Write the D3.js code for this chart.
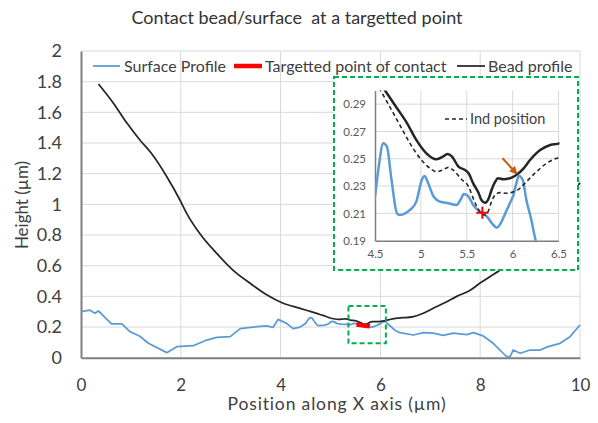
<!DOCTYPE html>
<html><head><meta charset="utf-8">
<script src="https://cdn.jsdelivr.net/npm/d3@7"></script>
<style>
html,body{margin:0;padding:0;background:#fff;}
svg{display:block;font-family:Lato,"Open Sans",sans-serif;}
</style></head>
<body>
<svg id="chart" width="598" height="423"></svg>
<script>
// ---------------- data ----------------
const surfaceX = [0,0.18,0.28,0.35,0.61,0.82,0.98,1.18,1.35,1.72,1.92,2.25,2.52,2.72,2.99,3.19,3.45,3.72,3.85,3.95,4.12,4.25,4.39,
  4.5,4.536,4.59,4.63,4.68,4.74,4.77,4.88,4.95,5.01,5.04,5.08,5.14,5.21,5.30,5.39,5.43,5.47,5.52,5.57,5.64,5.72,5.79,5.83,5.87,5.92,5.97,6.01,6.04,6.07,6.11,6.15,6.2,6.25,6.3,
  6.39,6.66,6.86,7.06,7.26,7.46,7.73,7.86,8.06,8.26,8.46,8.53,8.6,8.66,8.8,9.0,9.2,9.36,9.6,9.8,10];
const surfaceY = [0.30,0.31,0.29,0.305,0.22,0.22,0.17,0.14,0.094,0.033,0.072,0.078,0.115,0.133,0.137,0.19,0.20,0.207,0.198,0.25,0.224,0.19,0.20,
  0.2227,0.2418,0.2613,0.2589,0.2345,0.21,0.2088,0.2125,0.2186,0.2345,0.2374,0.232,0.2222,0.2186,0.2174,0.2162,0.2198,0.2242,0.2222,0.2162,0.2113,0.2076,0.2015,0.1995,0.2027,0.21,0.2174,0.2235,0.232,0.2374,0.2345,0.2198,0.2064,0.1905,0.178,
  0.163,0.148,0.163,0.16,0.145,0.16,0.15,0.163,0.142,0.094,0.029,0.007,0.007,0.05,0.029,0.05,0.05,0.072,0.094,0.137,0.213];

const beadX = [0.35,0.65,0.92,1.18,1.41,1.72,1.98,2.12,2.38,2.72,3.05,3.39,3.72,4.05,4.39,
  4.61,4.74,4.85,4.95,5.06,5.17,5.24,5.29,5.34,5.41,5.48,5.52,5.57,5.63,5.66,5.70,5.74,5.77,5.81,5.84,5.90,5.97,6.04,6.12,6.19,6.30,6.41,6.51,
  6.66,6.86,7.06,7.33,7.53,7.80,7.99,8.2,8.4,8.8,9.2,9.6,10];
const beadY = [1.785,1.66,1.53,1.42,1.333,1.18,1.03,0.94,0.81,0.68,0.57,0.485,0.41,0.355,0.322,
  0.300,0.287,0.276,0.2638,0.254,0.2496,0.2515,0.2535,0.2515,0.2442,0.2418,0.2394,0.232,0.2247,0.2198,0.2178,0.2211,0.2271,0.2332,0.2357,0.235,0.2357,0.2381,0.243,0.2491,0.2564,0.2601,0.2613,
  0.268,0.29,0.322,0.365,0.40,0.44,0.485,0.53,0.572,0.70,0.84,0.99,1.14];

const indX = [4.45,4.56,4.66,4.77,4.88,4.99,5.10,5.17,5.24,5.30,5.35,5.45,5.52,5.57,5.61,5.66,5.70,5.74,5.77,5.81,5.86,5.94,6.01,6.08,6.15,6.26,6.37,6.51];
const indY = [0.31,0.30,0.2882,0.2748,0.2614,0.2504,0.2430,0.2405,0.2418,0.2437,0.2418,0.2345,0.2296,0.2211,0.2149,0.21,0.2088,0.2125,0.2186,0.2235,0.2252,0.2247,0.2259,0.2284,0.2332,0.2405,0.2467,0.2511];

const targetX = [5.52,5.6,5.7,5.79];
const targetY = [0.216,0.213,0.209,0.205];

const contactPoint = [5.67, 0.2105];
const arrowFrom = [5.89, 0.2504];
const arrowTo = [6.04, 0.2394];

const zoomBoxX = [5.36, 6.11];
const zoomBoxY = [0.094, 0.337];

const xTicks = [0,2,4,6,8,10];
const yTicks = [0,0.2,0.4,0.6,0.8,1,1.2,1.4,1.6,1.8,2];
const insetXTicks = [4.5,5,5.5,6,6.5];
const insetYTicks = [0.19,0.21,0.23,0.25,0.27,0.29];

const titleText = "Contact bead/surface\u00a0 at a targetted point";
const xTitle = "Position along X axis (\u00b5m)";
const yTitle = "Height (\u00b5m)";
const legendLabels = ["Surface Profile","Targetted point of contact","Bead profile"];
const insetLegend = "Ind position";

// ---------------- drawing ----------------
const svg = d3.select("#chart");
const BLUE = "#5b9bd5", RED = "#ff0000", BLACK = "#262626", GRID = "#d9d9d9", AXIS = "#7f7f7f", GREEN = "#00b050", TXT = "#404040";

const x = d3.scaleLinear().domain([0,10]).range([81,580]);
const y = d3.scaleLinear().domain([0,2]).range([357.7,51]);

const zip = (a,b) => a.map((v,i)=>[v,b[i]]);

// gridlines
const g = svg.append("g");
g.selectAll(".hg").data(yTicks.slice(1)).join("line")
  .attr("x1",x(0)).attr("x2",x(10)).attr("y1",d=>y(d)).attr("y2",d=>y(d))
  .attr("stroke",GRID).attr("stroke-width",1);
g.selectAll(".vg").data(xTicks.slice(1)).join("line")
  .attr("x1",d=>x(d)).attr("x2",d=>x(d)).attr("y1",y(0)).attr("y2",y(2))
  .attr("stroke",GRID).attr("stroke-width",1);

// axes
const xAxis = d3.axisBottom(x).tickValues(xTicks).tickSize(0).tickPadding(21).tickFormat(d3.format("d"));
const yAxis = d3.axisLeft(y).tickValues(yTicks).tickSize(0).tickPadding(19).tickFormat(d=>d3.format("")(d));
const gx = svg.append("g").attr("transform",`translate(0,${y(0)})`).call(xAxis);
const gy = svg.append("g").attr("transform",`translate(${x(0)},0)`).call(yAxis);
gx.select(".domain").attr("stroke",AXIS).attr("stroke-width",2);
gy.select(".domain").attr("stroke",AXIS).attr("stroke-width",2);
gx.selectAll("text").attr("fill",TXT).style("font-size","17px").style("font-family","Lato");
gy.selectAll("text").attr("fill",TXT).style("font-size","18px").style("font-family","Lato");

// lines
const lineMain = d3.line().x(d=>x(d[0])).y(d=>y(d[1]));
svg.append("path").datum(zip(surfaceX,surfaceY)).attr("d",lineMain)
  .attr("fill","none").attr("stroke",BLUE).attr("stroke-width",1.75).attr("stroke-linejoin","round");
svg.append("path").datum(zip(beadX,beadY)).attr("d",d3.line().x(d=>x(d[0])).y(d=>y(d[1])).curve(d3.curveMonotoneX))
  .attr("fill","none").attr("stroke",BLACK).attr("stroke-width",1.75).attr("stroke-linejoin","round");
svg.append("path").datum(zip(targetX,targetY)).attr("d",lineMain)
  .attr("fill","none").attr("stroke",RED).attr("stroke-width",4.5).attr("stroke-linecap","butt");

// zoom box
svg.append("rect")
  .attr("x",x(zoomBoxX[0])).attr("y",y(zoomBoxY[1]))
  .attr("width",x(zoomBoxX[1])-x(zoomBoxX[0])).attr("height",y(zoomBoxY[0])-y(zoomBoxY[1]))
  .attr("fill","none").attr("stroke",GREEN).attr("stroke-width",2).attr("stroke-dasharray","5,3");

// title
svg.append("text").attr("x",297).attr("y",24).attr("text-anchor","middle")
  .attr("fill","#333").style("font-size","18px").text(titleText);

// axis titles
svg.append("text").attr("x",337).attr("y",410).attr("text-anchor","middle")
  .attr("fill",TXT).style("font-size","17.5px").style("letter-spacing","0.85px").text(xTitle);
svg.append("text").attr("transform","translate(28,205) rotate(-90)").attr("text-anchor","middle")
  .attr("fill",TXT).style("font-size","17px").text(yTitle);

// legend
const legItems = [
  {x1:93,x2:120,tx:124,color:BLUE,w:1.75,label:legendLabels[0]},
  {x1:234,x2:262,tx:265,color:RED,w:4.5,label:legendLabels[1]},
  {x1:457,x2:485,tx:488,color:BLACK,w:1.75,label:legendLabels[2]}
];
const leg = svg.append("g");
legItems.forEach(it=>{
  leg.append("line").attr("x1",it.x1).attr("x2",it.x2).attr("y1",66).attr("y2",66)
    .attr("stroke",it.color).attr("stroke-width",it.w);
  leg.append("text").attr("x",it.tx).attr("y",71.5).attr("fill",TXT)
    .style("font-size","16px").text(it.label);
});

// ---------------- inset ----------------
const inset = svg.append("g");
inset.append("rect").attr("x",334).attr("y",77).attr("width",244).attr("height",193)
  .attr("fill","#fff").attr("stroke",GREEN).attr("stroke-width",2).attr("stroke-dasharray","5,3");

const ix = d3.scaleLinear().domain([4.5,6.5]).range([375,558.5]);
const iy = d3.scaleLinear().domain([0.19,0.30]).range([240.7,90.5]);

inset.selectAll(".ihg").data(insetYTicks.slice(1)).join("line")
  .attr("x1",ix(4.5)).attr("x2",ix(6.5)).attr("y1",d=>iy(d)).attr("y2",d=>iy(d))
  .attr("stroke",GRID).attr("stroke-width",1);
inset.selectAll(".ivg").data(insetXTicks.slice(1)).join("line")
  .attr("x1",d=>ix(d)).attr("x2",d=>ix(d)).attr("y1",iy(0.19)).attr("y2",iy(0.30))
  .attr("stroke",GRID).attr("stroke-width",1);

const igx = inset.append("g").attr("transform",`translate(0,${iy(0.19)})`)
  .call(d3.axisBottom(ix).tickValues(insetXTicks).tickSize(0).tickPadding(9).tickFormat(d=>String(d)));
const igy = inset.append("g").attr("transform",`translate(${ix(4.5)},0)`)
  .call(d3.axisLeft(iy).tickValues(insetYTicks).tickSize(0).tickPadding(9).tickFormat(d3.format(".2f")));
[igx,igy].forEach(a=>{
  a.select(".domain").attr("stroke",AXIS).attr("stroke-width",1.5);
  a.selectAll("text").attr("fill","#595959").style("font-size","11.5px").style("font-family","Lato");
});

svg.append("defs").append("clipPath").attr("id","iclip").append("rect")
  .attr("x",ix(4.5)).attr("y",iy(0.30)).attr("width",ix(6.5)-ix(4.5)+1).attr("height",iy(0.19)-iy(0.30));

const lineInset = d3.line().x(d=>ix(d[0])).y(d=>iy(d[1])).curve(d3.curveMonotoneX);
const ic = inset.append("g").attr("clip-path","url(#iclip)");
const inRange = (arrX,arrY) => zip(arrX,arrY).filter(d=>d[0]>=4.3 && d[0]<=6.7);
ic.append("path").datum(inRange(surfaceX,surfaceY)).attr("d",lineInset)
  .attr("fill","none").attr("stroke",BLUE).attr("stroke-width",2.5);
ic.append("path").datum(inRange(indX,indY)).attr("d",lineInset)
  .attr("fill","none").attr("stroke",BLACK).attr("stroke-width",1.6).attr("stroke-dasharray","4,3");
ic.append("path").datum(inRange(beadX,beadY)).attr("d",lineInset)
  .attr("fill","none").attr("stroke",BLACK).attr("stroke-width",2.5);

// contact cross
const cx = ix(contactPoint[0]), cy = iy(contactPoint[1]);
inset.append("path").attr("d",`M${cx-6},${cy}H${cx+6}M${cx},${cy-6}V${cy+6}`)
  .attr("stroke",RED).attr("stroke-width",2);

// arrow
const ORANGE = "#c55a11";
svg.select("defs").append("marker").attr("id","ah").attr("viewBox","0 0 10 10")
  .attr("refX",8).attr("refY",5).attr("markerWidth",4).attr("markerHeight",4).attr("orient","auto")
  .append("path").attr("d","M0,0L10,5L0,10z").attr("fill",ORANGE);
inset.append("line").attr("x1",ix(arrowFrom[0])).attr("y1",iy(arrowFrom[1]))
  .attr("x2",ix(arrowTo[0])).attr("y2",iy(arrowTo[1]))
  .attr("stroke",ORANGE).attr("stroke-width",2).attr("marker-end","url(#ah)");

// inset legend
inset.append("line").attr("x1",445).attr("x2",467).attr("y1",119).attr("y2",119)
  .attr("stroke",BLACK).attr("stroke-width",1.5).attr("stroke-dasharray","4,3");
inset.append("text").attr("x",470).attr("y",124).attr("fill",TXT).style("font-size","14.5px").text(insetLegend);
</script>
</body></html>
